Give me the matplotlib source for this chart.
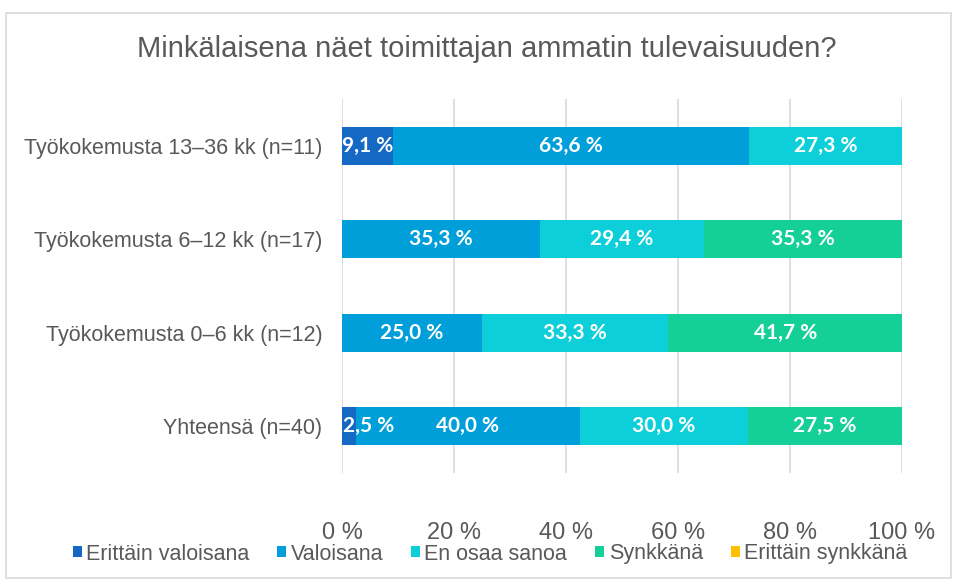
import matplotlib.pyplot as plt
import numpy as np
from matplotlib.patches import Rectangle

plt.rcParams["font.family"] = ["Liberation Sans", "DejaVu Sans"]

categories = [
    "Yhteensä (n=40)",
    "Työkokemusta 0–6 kk (n=12)",
    "Työkokemusta 6–12 kk (n=17)",
    "Työkokemusta 13–36 kk (n=11)",
]
series_names = ["Erittäin valoisana", "Valoisana", "En osaa sanoa", "Synkkänä", "Erittäin synkkänä"]
values = [
    [2.5, 0.0, 0.0, 9.1],
    [40.0, 25.0, 35.3, 63.6],
    [30.0, 33.3, 29.4, 27.3],
    [27.5, 41.7, 35.3, 0.0],
    [0.0, 0.0, 0.0, 0.0],
]
colors = ["#1569C4", "#009FDA", "#0CCFDA", "#15CF98", "#FFC000"]
xticks = [0, 20, 40, 60, 80, 100]

fig = plt.figure(figsize=(9.57, 5.79), dpi=100)
fig.patches.append(Rectangle((6 / 957, 0.002), 1 - 12 / 957, 1 - 14 / 579,
                             transform=fig.transFigure, fill=False,
                             edgecolor="#D9D9D9", linewidth=1.2))
ax = fig.add_axes([342 / 957, 1 - 473 / 579, 560 / 957, 374 / 579])

y = np.arange(len(categories))
left = np.zeros(len(categories))
for name, vals, col in zip(series_names, values, colors):
    vals = np.array(vals)
    ax.barh(y, vals, left=left, height=0.41, color=col, label=name)
    for yi, (l, v) in enumerate(zip(left, vals)):
        if v <= 0:
            continue
        txt = f"{v:.1f} %".replace(".", ",")
        # tiny segments at the left edge: keep the label inside the plot like Excel does
        if v < 5 and l == 0:
            ax.text(l + 0.2, yi, txt, ha="left", va="center", color="white",
                    fontsize=15, fontweight="bold", family="Lato", zorder=5)
        else:
            ax.text(l + v / 2, yi, txt, ha="center", va="center", color="white",
                    fontsize=15, fontweight="bold", family="Lato", zorder=5)
    left += vals

ax.set_xlim(0, 100)
ax.set_ylim(-0.5, 3.5)
ax.set_xticks(xticks)
ax.set_xticklabels([f"{t} %" for t in xticks], fontsize=17, color="#595959")
ax.set_yticks(y)
ax.set_yticklabels(categories, fontsize=15.5, color="#595959")
ax.tick_params(axis="x", length=0, pad=35)
ax.tick_params(axis="y", length=0, pad=14)
ax.grid(axis="x", color="#D9D9D9", linewidth=1.2)
ax.set_axisbelow(True)
for s in ax.spines.values():
    s.set_visible(False)

fig.text(486.5 / 957, 1 - 49 / 579, "Minkälaisena näet toimittajan ammatin tulevaisuuden?",
         ha="center", va="center", fontsize=21, color="#595959")
fig.legend(loc="center", bbox_to_anchor=(490 / 957, 1 - 554 / 579), ncol=5, frameon=False,
           fontsize=15.5, handlelength=0.42, handleheight=0.42, handletextpad=0.2,
           columnspacing=1.3, labelcolor="#595959")

fig.savefig("out.png", dpi=100)
